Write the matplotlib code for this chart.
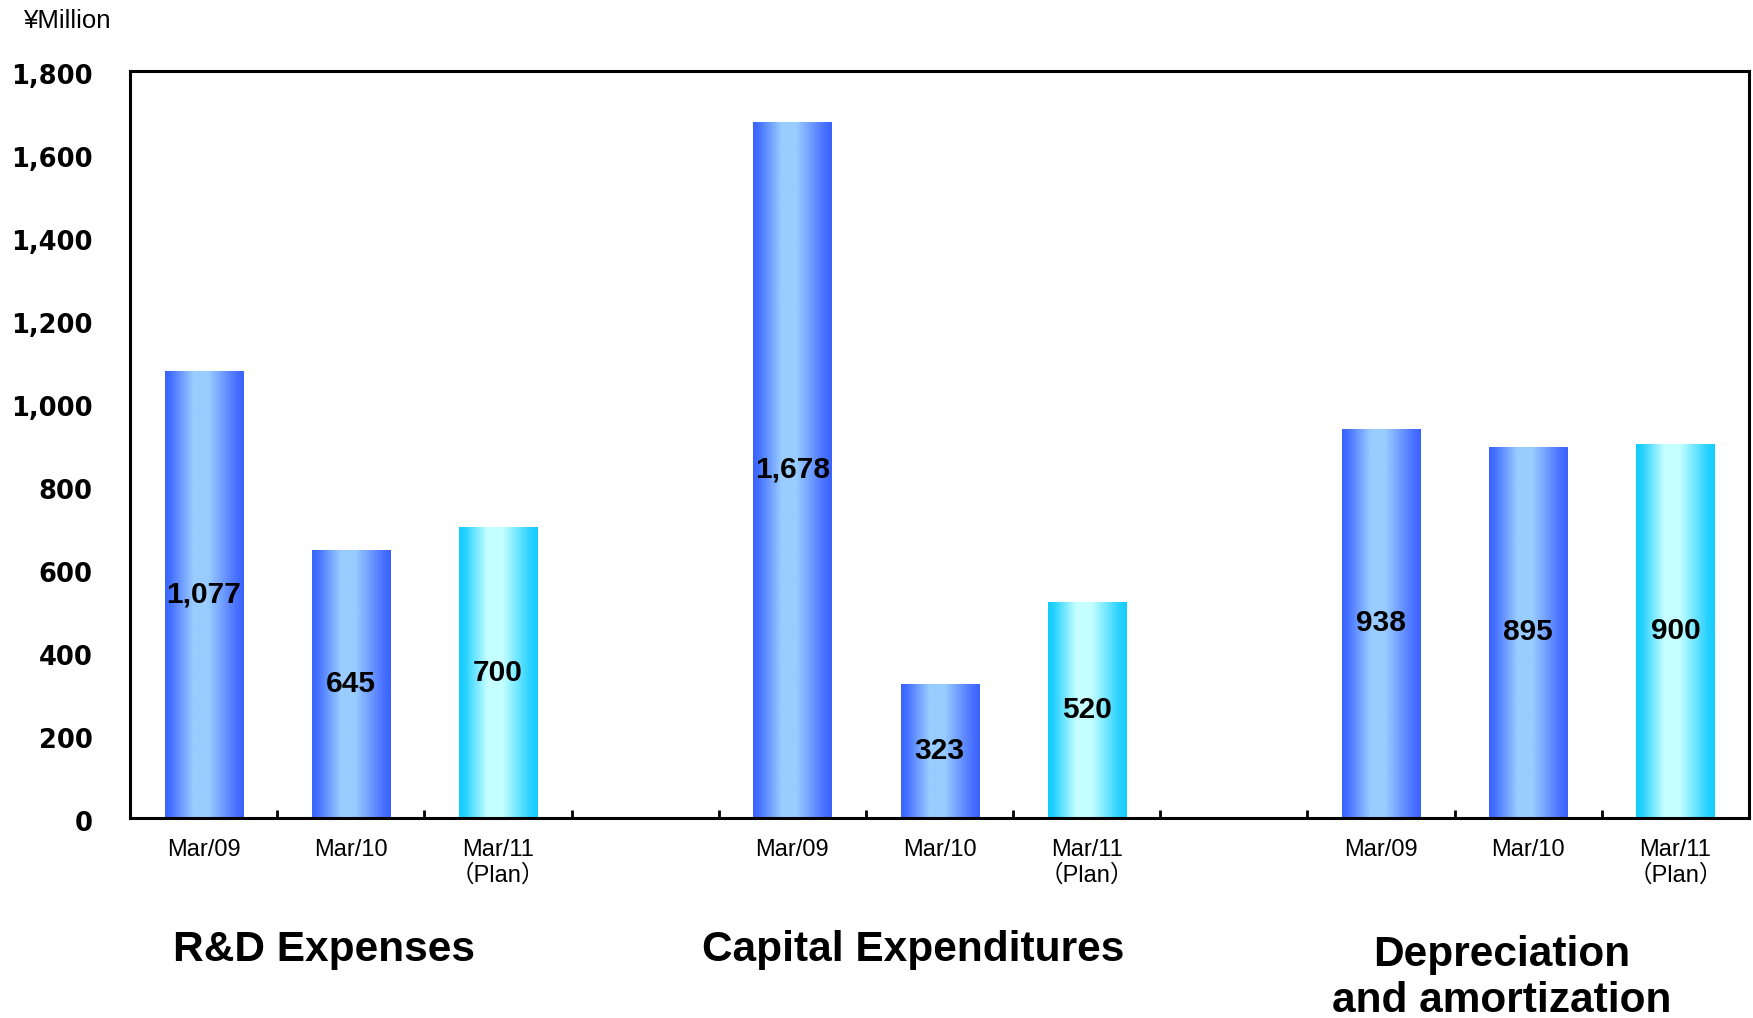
import numpy as np
import matplotlib
matplotlib.use('Agg')
import matplotlib.pyplot as plt
from matplotlib.colors import LinearSegmentedColormap
from matplotlib.ticker import FuncFormatter, FixedLocator
from matplotlib.transforms import blended_transform_factory, ScaledTranslation

# values in ¥ million
periods = ['Mar/09', 'Mar/10', 'Mar/11\n（Plan）']
groups = ['R&D Expenses', 'Capital Expenditures', 'Depreciation\nand amortization']
rd_expenses = [1077, 645, 700]
capital_expenditures = [1678, 323, 520]
depreciation = [938, 895, 900]

series = [rd_expenses, capital_expenditures, depreciation]

LABEL_FONT = ['Liberation Sans', 'Noto Sans CJK JP', 'DejaVu Sans']

# horizontal "cylinder" shading for the bars
stops = [0.0, 0.07, 0.36, 0.55, 0.9, 1.0]
blue = LinearSegmentedColormap.from_list('blue', list(zip(stops, ['#3a62ff', '#4470ff', '#99ccff', '#99ccff', '#4a72ff', '#3a62ff'])))
cyan = LinearSegmentedColormap.from_list('cyan', list(zip(stops, ['#12ccff', '#22d0ff', '#c6ffff', '#c6ffff', '#2ad2ff', '#12ccff'])))
ramp = np.linspace(0, 1, 256).reshape(1, -1)

fig = plt.figure(figsize=(17.53, 10.18), dpi=100)
ax = fig.add_axes([0.0742, 0.1965, 0.9235, 0.7338])

xs, heights, plan = [], [], []
for g, vals in enumerate(series):
    for i, v in enumerate(vals):
        xs.append(g * 4 + i)
        heights.append(v)
        plan.append(i == 2)

bars = ax.bar(xs, heights, width=0.53, color='none', edgecolor='none', zorder=2)
for bar, is_plan, v in zip(bars, plan, heights):
    x0, w, h = bar.get_x(), bar.get_width(), bar.get_height()
    im = ax.imshow(ramp, cmap=cyan if is_plan else blue, aspect='auto',
                   extent=(x0, x0 + w, 0, h), zorder=2, interpolation='bilinear')
    im.set_clip_path(bar)
    ax.text(x0 + w / 2, h / 2, f'{v:,}', ha='center', va='center',
            fontsize=21.5, fontweight='bold', family=LABEL_FONT, zorder=3)

ax.set_xlim(-0.5, 10.5)
ax.set_ylim(0, 1800)

# category labels at bar centres, tick marks on slot boundaries
ax.set_xticks(xs)
ax.set_xticklabels(periods * 3, fontsize=17, family=LABEL_FONT, linespacing=1.2)
ax.xaxis.set_minor_locator(FixedLocator(np.arange(-0.5, 11, 1.0)))
ax.tick_params(axis='x', which='major', length=0, pad=15)
ax.tick_params(axis='x', which='minor', direction='in', length=6, width=2)

ax.set_yticks(np.arange(0, 1801, 200))
ax.yaxis.set_major_formatter(FuncFormatter(lambda v, p: f'{int(v):,}'))
ax.tick_params(axis='y', length=0, pad=27)
nudge = ScaledTranslation(0, -0.035, fig.dpi_scale_trans)
for lbl in ax.get_yticklabels():
    lbl.set_fontfamily('DejaVu Sans')
    lbl.set_fontweight('bold')
    lbl.set_fontsize(18.5)
    lbl.set_transform(lbl.get_transform() + nudge)

for s in ax.spines.values():
    s.set_linewidth(2.2)

# group captions under each block of three bars (baseline of the first line fixed)
caption_trans = blended_transform_factory(ax.transData, fig.transFigure)
for g, name in enumerate(groups):
    extra_lines = name.count('\n')
    ax.text(g * 4 + 1 - 0.18, 0.056 - 0.05 * extra_lines, name, transform=caption_trans,
            ha='center', va='baseline', fontsize=30.5, fontweight='bold',
            family=LABEL_FONT, linespacing=1.2)

fig.text(0.013, 0.9725, '¥Million', fontsize=18.5, family=LABEL_FONT, va='baseline')

fig.savefig('out.png', dpi=100)
